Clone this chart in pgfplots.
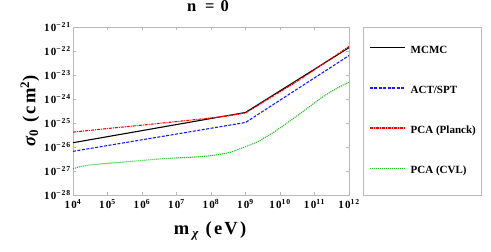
\documentclass[border=0pt]{standalone}
\usepackage{fontspec}
\setmainfont{Liberation Serif}
\newfontfamily\spaced[LetterSpace=12]{Liberation Serif}
\usepackage{pgfplots}
\pgfplotsset{compat=1.18}
\definecolor{cvlgreen}{rgb}{0.15,0.75,0.15}
\definecolor{actblue}{rgb}{0.1,0.1,1}
\begin{document}
\begin{tikzpicture}
\useasboundingbox (-73pt,-57pt) rectangle (418pt,195pt);
\begin{axis}[
  at={(0pt,0pt)}, anchor=south west,
  scale only axis, width=276pt, height=168pt,
  xmode=log, ymode=log,
  xmin=1e4, xmax=1e12, ymin=1e-28, ymax=1e-21,
  xtick={1e4,1e5,1e6,1e7,1e8,1e9,1e10,1e11,1e12},
  xticklabels={10\textsuperscript{4},10\textsuperscript{5},10\textsuperscript{6},10\textsuperscript{7},10\textsuperscript{8},10\textsuperscript{9},10\textsuperscript{10},10\textsuperscript{11},10\textsuperscript{12}},
  ytick={1e-28,1e-27,1e-26,1e-25,1e-24,1e-23,1e-22,1e-21},
  yticklabels={10\textsuperscript{−28},10\textsuperscript{−27},10\textsuperscript{−26},10\textsuperscript{−25},10\textsuperscript{−24},10\textsuperscript{−23},10\textsuperscript{−22},10\textsuperscript{−21}},
  xminorticks=false, yminorticks=false,
  axis line style={gray!55},
  tick style={gray!55, line width=0.4pt},
  major tick length=3pt,
  tick align=inside,
  ticklabel style={font=\spaced\bfseries\fontsize{11}{13}\selectfont},
  yticklabel style={inner sep=2pt},
  xticklabel style={yshift=-1pt},
  title={\bfseries n \,= 0},
  title style={font=\spaced\fontsize{16.5}{19}\selectfont, at={(0.489,1.0893)}, anchor=center},
  xlabel={\bfseries m\,\textsubscript{\itshape χ} (eV)},
  xlabel style={font=\spaced\fontsize{18.5}{21}\selectfont, at={(0.4964,-0.2143)}, anchor=center},
  ylabel={{\bfseries\itshape σ}\textsubscript{\bfseries 0}\bfseries\ (cm\textsuperscript{2})},
  ylabel style={font=\spaced\fontsize{18.5}{21}\selectfont, at={(-0.1558,0.5)}, anchor=center},
  legend style={draw=none, fill=none, at={(1.0725,0.5)}, anchor=west, inner sep=0pt,
    row sep=30.3pt, font=\bfseries\fontsize{11}{13}\selectfont,
    nodes={inner sep=0pt, text height=7.5pt, text depth=2.5pt},
    /tikz/every odd column/.style={column sep=5pt}},
  legend cell align=left,
  legend image code/.code={\draw[#1, line width=1.5pt] (0pt,3pt) -- (35pt,3pt);},
]
\addplot[color=black, line width=1.1pt] coordinates {
  (1e4,1.51e-26) (1e9,2.75e-25) (1e12,1.38e-22)
};
\addlegendentry{MCMC}
\addplot[color=actblue, line width=1.1pt, dash pattern=on 3pt off 1.5pt] coordinates {
  (1e4,6.61e-27) (1e9,1.05e-25) (1e12,6.46e-23)
};
\addlegendentry{ACT/SPT}
\addplot[color=red, line width=1.1pt, dash pattern=on 3pt off 1pt on 1pt off 1pt] coordinates {
  (1e4,4.17e-26) (1e5,5.89e-26) (1e6,8.13e-26) (1e7,1.15e-25) (1e8,1.62e-25)
  (3.162e8,2.0e-25) (1e9,2.63e-25) (3.162e10,5.50e-24) (1e12,1.55e-22)
};
\addlegendentry{PCA (Planck)}
\addplot[color=cvlgreen, line width=1.1pt, dash pattern=on 1.1pt off 0.9pt, smooth, tension=0.4] coordinates {
  (1e4,1.23e-27) (1.585e4,1.51e-27) (3.162e4,1.78e-27) (1e5,2.09e-27)
  (3.162e5,2.40e-27) (1e6,2.75e-27) (5.012e6,3.31e-27) (3.162e7,3.80e-27)
  (1e8,4.37e-27) (3.162e8,5.75e-27) (6.918e8,8.51e-27) (2.089e9,1.58e-26)
  (6.457e9,4.07e-26) (1.950e10,1.23e-25) (5.888e10,3.89e-25) (1.820e11,1.29e-24)
  (5.495e11,3.31e-24) (1e12,4.90e-24)
};
\addlegendentry{PCA (CVL)}
\end{axis}
\draw[gray!55] (290pt,0pt) rectangle (408pt,168pt);
\end{tikzpicture}
\end{document}
